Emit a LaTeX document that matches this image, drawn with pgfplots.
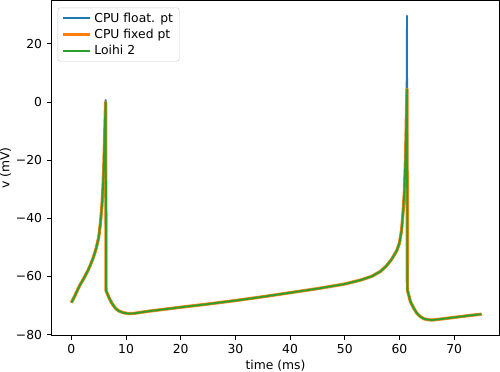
\documentclass[border=0pt]{standalone}
\usepackage{fontspec}
\setmainfont{DejaVu Sans}
\usepackage{pgfplots}
\pgfplotsset{compat=1.18}

\definecolor{tabblue}{HTML}{1F77B4}
\definecolor{taborange}{HTML}{FF7F0E}
\definecolor{tabgreen}{HTML}{2CA02C}

% membrane potential, float run
\pgfplotstableread{
t v
0 -69.0
0.5 -67.2
1.0 -65.2
1.5 -63.2
2.0 -61.6
2.5 -59.9
3.0 -58.1
3.5 -56.0
4.0 -53.6
4.5 -50.6
5.0 -46.6
5.3 -42.0
5.6 -35.5
5.8 -28.5
5.95 -21.0
6.1 -11.0
6.2 -4.0
6.27 0.7
6.35 -64.9
7.0 -67.8
7.5 -69.5
8.0 -70.8
8.6 -71.8
9.5 -72.5
10.5 -72.8
11.5 -72.7
14 -72.0
17 -71.3
20 -70.6
25 -69.5
30 -68.3
35 -67.0
40 -65.6
45 -64.2
50 -62.6
53 -61.2
55 -59.9
56.5 -58.3
57.5 -56.6
58.5 -54.3
59.5 -51.2
60.0 -48.5
60.4 -44.0
60.7 -37.0
60.9 -31.0
61.1 -20.0
61.2 -12.0
61.3 -2.0
61.38 29.7
61.45 -64.6
62.0 -68.6
62.6 -70.9
63.2 -72.7
63.8 -73.8
64.5 -74.6
65.3 -74.9
66 -75.0
67 -74.8
70 -74.1
73 -73.4
75 -73.0
}\floatdata

% fixed point run (same as Loihi 2)
\pgfplotstableread{
t v
0 -69.0
0.5 -67.2
1.0 -65.2
1.5 -63.2
2.0 -61.6
2.5 -59.9
3.0 -58.1
3.5 -56.0
4.0 -53.6
4.5 -50.6
5.0 -46.6
5.3 -42.0
5.6 -35.5
5.8 -28.5
5.95 -21.0
6.1 -11.0
6.2 -4.0
6.27 0.0
6.35 -64.9
7.0 -67.8
7.5 -69.5
8.0 -70.8
8.6 -71.8
9.5 -72.5
10.5 -72.8
11.5 -72.7
14 -72.0
17 -71.3
20 -70.6
25 -69.5
30 -68.3
35 -67.0
40 -65.6
45 -64.2
50 -62.6
53 -61.2
55 -59.9
56.5 -58.3
57.5 -56.6
58.5 -54.3
59.5 -51.2
60.0 -48.5
60.4 -44.0
60.7 -37.0
60.9 -31.0
61.1 -20.0
61.2 -12.0
61.3 -2.0
61.38 4.4
61.45 -64.6
62.0 -68.6
62.6 -70.9
63.2 -72.7
63.8 -73.8
64.5 -74.6
65.3 -74.9
66 -75.0
67 -74.8
70 -74.1
73 -73.4
75 -73.0
}\fixeddata

\begin{document}
\begin{tikzpicture}
\begin{axis}[
    scale only axis,
    width=362.6pt, height=271pt,
    xmin=-3.62, xmax=78.3,
    ymin=-80.25, ymax=34.95,
    xtick={0,10,20,30,40,50,60,70},
    ytick={-80,-60,-40,-20,0,20},
    yticklabels={−80,−60,−40,−20,0,20},
    xtick pos=bottom, ytick pos=left,
    tick align=outside,
    major tick length=3.5pt,
    tick style={black, line width=0.8pt},
    axis line style={line width=0.8pt},
    /pgf/number format/assume math mode=true,
    tick label style={font=\fontsize{10}{12}\selectfont},
    xticklabel style={inner sep=1pt, yshift=-3pt},
    yticklabel style={inner sep=1pt, xshift=-3pt},
    label style={font=\fontsize{10}{12}\selectfont},
    xlabel={time (ms)},
    ylabel={v (mV)},
    xlabel style={at={(axis description cs:0.5,0)}, anchor=base,
      inner sep=0pt, yshift=-28pt},
    ylabel style={at={(axis description cs:-0.09,0.5)}, anchor=south,
      inner sep=0pt},
    legend cell align=left,
    legend style={at={(0.0135,0.979)}, anchor=north west,
      draw=black!20, rounded corners=2pt, fill=white, fill opacity=0.8,
      text opacity=1, font=\fontsize{10}{12}\selectfont,
      inner xsep=3pt, inner ysep=2pt, row sep=0pt},
    legend image code/.code={\draw[#1] (0pt,0pt) -- (22pt,0pt);},
  ]
  \addplot[tabblue, line width=1.5pt, line join=round] table[x=t, y=v] {\floatdata};
  \addlegendentry{CPU float. pt}
  \addplot[taborange, line width=2.6pt, line join=round] table[x=t, y=v] {\fixeddata};
  \addlegendentry{CPU fixed pt}
  \addplot[tabgreen, line width=1.5pt, line join=round] table[x=t, y=v] {\fixeddata};
  \addlegendentry{Loihi 2}
\end{axis}
\end{tikzpicture}
\end{document}
